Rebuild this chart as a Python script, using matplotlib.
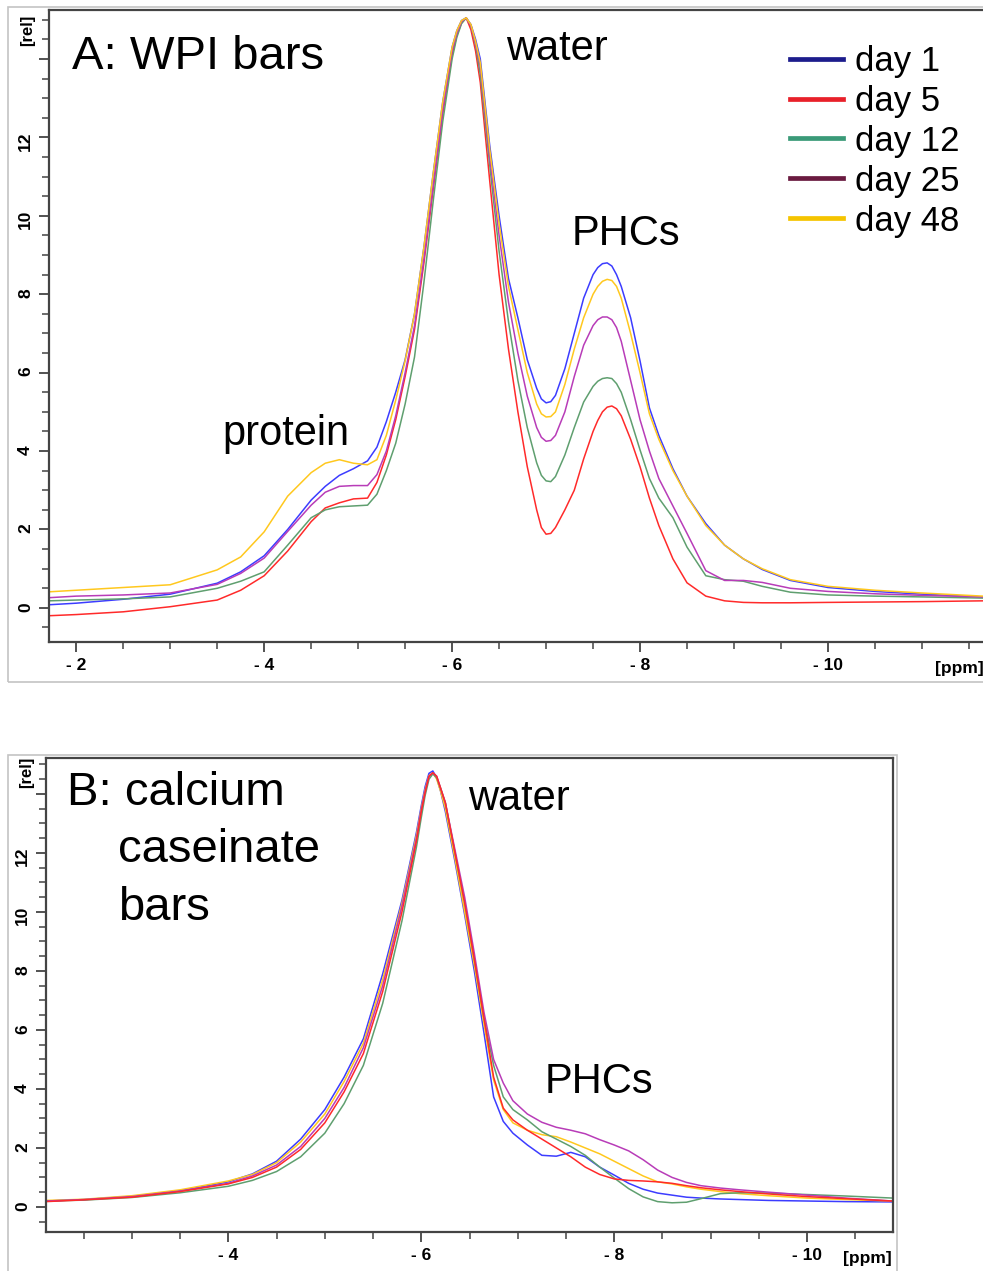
import matplotlib
matplotlib.use('Agg')
import numpy as np
import matplotlib.pyplot as plt
from matplotlib.lines import Line2D
from matplotlib.patches import Rectangle
from matplotlib.ticker import MultipleLocator, FixedLocator

plt.rcParams['font.family'] = ['Liberation Sans', 'DejaVu Sans']

# ---- data: panel A (WPI bars) ----
ppm_a = [-1.71, -2.0, -2.5, -3.0, -3.5, -3.75, -4.0, -4.25, -4.5, -4.65, -4.8, -4.95,
         -5.1, -5.2, -5.3, -5.4, -5.5, -5.6, -5.7, -5.8, -5.9, -6.0, -6.05, -6.1,
         -6.15, -6.2, -6.25, -6.3, -6.4, -6.5, -6.6, -6.7, -6.8, -6.9, -6.95, -7.0,
         -7.05, -7.1, -7.2, -7.3, -7.4, -7.5, -7.55, -7.6, -7.65, -7.7, -7.75, -7.8,
         -7.9, -8.0, -8.1, -8.2, -8.35, -8.5, -8.7, -8.9, -9.1, -9.3, -9.6, -10.0,
         -10.5, -11.0, -11.65]
a_day1 = [0.08, 0.12, 0.22, 0.35, 0.63, 0.92, 1.33, 2.0, 2.75, 3.1, 3.38, 3.55,
          3.75, 4.1, 4.75, 5.5, 6.33, 7.5, 9.2, 11.1, 12.9, 14.3, 14.72, 14.98,
          15.05, 14.88, 14.5, 14.0, 11.8, 10.0, 8.4, 7.4, 6.33, 5.6, 5.33, 5.23,
          5.26, 5.42, 6.1, 7.0, 7.9, 8.5, 8.68, 8.78, 8.8, 8.72, 8.5, 8.2,
          7.4, 6.3, 5.1, 4.4, 3.55, 2.85, 2.15, 1.6, 1.25, 0.98, 0.7, 0.52,
          0.42, 0.35, 0.28]
a_day5 = [-0.2, -0.17, -0.1, 0.03, 0.2, 0.45, 0.82, 1.45, 2.2, 2.55, 2.68, 2.78,
          2.8, 3.2, 3.9, 4.8, 5.9, 7.1, 8.8, 10.7, 12.6, 14.1, 14.6, 14.92,
          15.05, 14.75, 14.2, 13.4, 10.9, 8.5, 6.6, 5.0, 3.6, 2.5, 2.05, 1.88,
          1.9, 2.05, 2.5, 3.0, 3.8, 4.5, 4.78, 5.0, 5.12, 5.15, 5.08, 4.9,
          4.3, 3.6, 2.8, 2.1, 1.25, 0.64, 0.3, 0.18, 0.14, 0.13, 0.13, 0.14,
          0.15, 0.16, 0.18]
a_day12 = [0.18, 0.2, 0.23, 0.28, 0.5, 0.68, 0.92, 1.6, 2.3, 2.5, 2.58, 2.6,
           2.62, 2.9, 3.5, 4.2, 5.2, 6.4, 8.3, 10.4, 12.4, 14.0, 14.55, 14.9,
           15.05, 14.85, 14.35, 13.6, 11.3, 9.1, 7.3, 5.8, 4.6, 3.7, 3.38, 3.24,
           3.22, 3.35, 3.9, 4.6, 5.25, 5.65, 5.78, 5.85, 5.87, 5.85, 5.72, 5.5,
           4.8, 4.03, 3.3, 2.8, 2.3, 1.55, 0.82, 0.72, 0.68, 0.55, 0.4, 0.33,
           0.3, 0.28, 0.25]
a_day25 = [0.26, 0.3, 0.33, 0.38, 0.6, 0.88, 1.27, 1.95, 2.62, 2.95, 3.1, 3.12,
           3.12, 3.4, 4.0, 4.9, 6.0, 7.2, 8.9, 10.8, 12.7, 14.2, 14.65, 14.95,
           15.05, 14.85, 14.4, 13.8, 11.5, 9.5, 7.8, 6.5, 5.4, 4.6, 4.35, 4.25,
           4.27, 4.4, 5.0, 5.9, 6.7, 7.2, 7.35, 7.42, 7.42, 7.35, 7.15, 6.8,
           5.8, 4.8, 4.0, 3.3, 2.6, 1.9, 0.95, 0.7, 0.7, 0.65, 0.5, 0.42,
           0.36, 0.32, 0.28]
a_day48 = [0.41, 0.45, 0.52, 0.59, 0.97, 1.3, 1.94, 2.85, 3.45, 3.69, 3.78, 3.69,
           3.65, 3.78, 4.4, 5.3, 6.3, 7.5, 9.2, 11.1, 12.9, 14.3, 14.72, 14.98,
           15.05, 14.88, 14.45, 13.9, 11.7, 9.8, 8.2, 7.1, 6.0, 5.2, 4.95, 4.87,
           4.88, 5.0, 5.7, 6.6, 7.4, 8.0, 8.2, 8.33, 8.38, 8.35, 8.2, 7.9,
           7.0, 6.0, 4.95, 4.3, 3.5, 2.85, 2.1, 1.6, 1.25, 1.0, 0.72, 0.55,
           0.45, 0.38, 0.3]

# ---- data: panel B (calcium caseinate bars) ----
ppm_b = [-2.11, -2.5, -3.0, -3.5, -4.0, -4.25, -4.5, -4.75, -5.0, -5.2, -5.4, -5.6,
         -5.8, -5.95, -6.0, -6.04, -6.08, -6.12, -6.16, -6.2, -6.25, -6.35, -6.45,
         -6.55, -6.65, -6.75, -6.85, -6.95, -7.1, -7.25, -7.4, -7.55, -7.7, -7.85,
         -8.0, -8.15, -8.3, -8.45, -8.6, -8.75, -8.9, -9.1, -9.3, -9.6, -10.0,
         -10.4, -10.89]
b_day1 = [0.2, 0.25, 0.36, 0.55, 0.85, 1.12, 1.55, 2.3, 3.3, 4.4, 5.7, 7.9,
          10.4, 12.7, 13.6, 14.25, 14.7, 14.78, 14.55, 14.1, 13.4, 11.7, 9.9,
          8.0, 5.9, 3.73, 2.9, 2.5, 2.1, 1.75, 1.72, 1.85, 1.7, 1.35,
          1.08, 0.8, 0.6, 0.47, 0.4, 0.33, 0.3, 0.27, 0.25, 0.22, 0.2,
          0.18, 0.17]
b_day5 = [0.18, 0.24, 0.33, 0.52, 0.78, 1.0, 1.35, 1.95, 2.85, 3.9, 5.2, 7.3,
          10.0, 12.4, 13.4, 14.05, 14.6, 14.72, 14.6, 14.2, 13.7, 12.0, 10.3,
          8.4, 6.4, 4.4, 3.35, 2.95, 2.6, 2.3, 2.0, 1.7, 1.35, 1.1,
          0.95, 0.9, 0.88, 0.85, 0.8, 0.72, 0.65, 0.58, 0.52, 0.44, 0.35,
          0.28, 0.2]
b_day12 = [0.2, 0.23, 0.32, 0.48, 0.7, 0.9, 1.2, 1.7, 2.5, 3.5, 4.8, 6.9,
           9.7, 12.2, 13.2, 13.95, 14.5, 14.68, 14.55, 14.2, 13.7, 12.0, 10.3,
           8.4, 6.4, 4.8, 3.73, 3.3, 2.95, 2.55, 2.3, 2.05, 1.75, 1.35,
           0.98, 0.62, 0.34, 0.18, 0.14, 0.16, 0.28, 0.45, 0.48, 0.47, 0.42,
           0.37, 0.3]
b_day25 = [0.2, 0.25, 0.35, 0.54, 0.8, 1.05, 1.42, 2.05, 3.0, 4.05, 5.4, 7.5,
           10.2, 12.5, 13.45, 14.1, 14.6, 14.72, 14.6, 14.2, 13.7, 12.1, 10.5,
           8.6, 6.6, 5.0, 4.2, 3.6, 3.15, 2.87, 2.7, 2.6, 2.48, 2.28,
           2.1, 1.9, 1.6, 1.25, 1.0, 0.83, 0.72, 0.64, 0.58, 0.5, 0.4,
           0.3, 0.2]
b_day48 = [0.22, 0.26, 0.38, 0.58, 0.88, 1.1, 1.5, 2.2, 3.15, 4.25, 5.55, 7.7,
           10.3, 12.6, 13.5, 14.15, 14.62, 14.72, 14.5, 14.1, 13.5, 11.8, 10.0,
           8.2, 6.2, 4.3, 3.3, 2.85, 2.6, 2.45, 2.38, 2.2, 2.0, 1.8,
           1.55, 1.3, 1.05, 0.85, 0.78, 0.68, 0.6, 0.52, 0.45, 0.38, 0.3,
           0.25, 0.2]

labels = ['day 1', 'day 5', 'day 12', 'day 25', 'day 48']
line_colors = ['#3c3cff', '#ff2a2a', '#5f9f6f', '#b83cb8', '#ffc81e']
legend_colors = ['#1c1c8c', '#e8202a', '#3a9a78', '#6a1a40', '#f5c400']

xticks_a = [-2, -4, -6, -8, -10]
xticks_b = [-4, -6, -8, -10]
yticks = [0, 2, 4, 6, 8, 10, 12, 14]
ytick_labels = ['0', '2', '4', '6', '8', '10', '12', '']

fig = plt.figure(figsize=(9.83, 12.71), dpi=100)
W, H = 983.0, 1271.0

# light grey panel frames
fig.patches.append(Rectangle((8 / W, 1 - 682 / H), 985 / W, 675 / H, transform=fig.transFigure,
                             fill=False, edgecolor='#c4c4c4', lw=1.2))
fig.patches.append(Rectangle((8 / W, -0.01), 889 / W, (1271 - 755) / H + 0.01, transform=fig.transFigure,
                             fill=False, edgecolor='#c4c4c4', lw=1.2))

ax1 = fig.add_axes([49 / W, 1 - 642 / H, (983 - 49) / W, 632 / H])
ax2 = fig.add_axes([46 / W, 1 - 1232 / H, (893 - 46) / W, 474 / H])


def style_axis(ax, xticks, xlim, ylim, ppm_x):
    ax.set_xlim(*xlim)
    ax.set_ylim(*ylim)
    ax.xaxis.set_major_locator(FixedLocator(xticks))
    ax.set_xticklabels(['- %d' % abs(t) for t in xticks])
    ax.xaxis.set_minor_locator(MultipleLocator(0.5))
    ax.yaxis.set_major_locator(FixedLocator(yticks))
    ax.set_yticklabels(ytick_labels)
    ax.yaxis.set_minor_locator(MultipleLocator(0.5))
    ax.tick_params(which='major', direction='out', length=7.5, width=1.3, color='#444444',
                   labelsize=12.5, pad=4)
    ax.tick_params(which='minor', direction='out', length=5, width=1.1, color='#444444')
    ax.tick_params(axis='y', labelrotation=90)
    for lab in ax.get_xticklabels() + ax.get_yticklabels():
        lab.set_fontweight('bold')
    for s in ax.spines.values():
        s.set_color('#444444')
        s.set_linewidth(1.6)
    ax.text(-0.023, 14.72, '[rel]', transform=ax.get_yaxis_transform(), rotation=90,
            ha='center', va='center', fontsize=12, fontweight='bold')
    ax.annotate('[ppm]', xy=(ppm_x, 0), xycoords=('data', 'axes fraction'),
                xytext=(0, -19), textcoords='offset points', ha='center', va='center',
                fontsize=12.5, fontweight='bold')


# panel A
series_a = [a_day1, a_day5, a_day12, a_day25, a_day48]
for vals, c in zip(series_a, line_colors):
    ax1.plot(ppm_a, vals, color=c, lw=1.1)
style_axis(ax1, xticks_a, (-1.71, -11.65), (-0.87, 15.25), -11.4)
ax1.spines['right'].set_visible(False)

ax1.text(-1.96, 13.75, 'A: WPI bars', fontsize=34, ha='left', va='baseline')
ax1.text(-6.57, 13.98, 'water', fontsize=30, ha='left', va='baseline')
ax1.text(-7.27, 9.26, 'PHCs', fontsize=30, ha='left', va='baseline')
ax1.text(-3.55, 4.16, 'protein', fontsize=30, ha='left', va='baseline')

handles = [Line2D([], [], color=c, lw=3.4) for c in legend_colors]
ax1.legend(handles, labels, loc='upper left', bbox_to_anchor=(0.778, 0.967), frameon=False,
           fontsize=25, handlelength=1.53, handletextpad=0.35, labelspacing=0.2,
           borderaxespad=0.0)

# panel B
series_b = [b_day1, b_day48, b_day12, b_day25, b_day5]
colors_b = [line_colors[0], line_colors[4], line_colors[2], line_colors[3], line_colors[1]]
for vals, c in zip(series_b, colors_b):
    ax2.plot(ppm_b, vals, color=c, lw=1.1)
style_axis(ax2, xticks_b, (-2.11, -10.89), (-0.85, 15.22), -10.62)

ax2.text(-2.33, 13.63, 'B: calcium', fontsize=34, ha='left', va='baseline')
ax2.text(-2.86, 11.69, 'caseinate', fontsize=34, ha='left', va='baseline')
ax2.text(-2.86, 9.73, 'bars', fontsize=34, ha='left', va='baseline')
ax2.text(-6.48, 13.46, 'water', fontsize=30, ha='left', va='baseline')
ax2.text(-7.28, 3.86, 'PHCs', fontsize=30, ha='left', va='baseline')

fig.savefig('out.png', dpi=100)
